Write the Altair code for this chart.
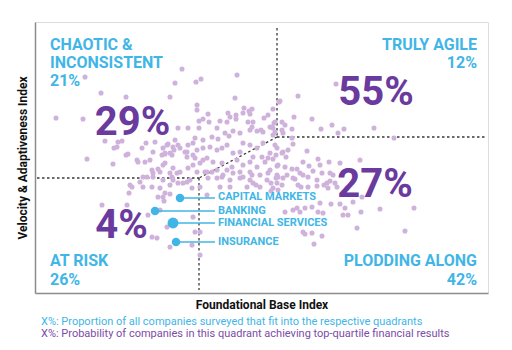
import altair as alt
import pandas as pd

# ---- survey companies (Foundational Base Index, Velocity & Adaptiveness Index) ----
dot_x = [147, 50, 166, 161, 140, 202, 66, 91, 135, 200, 162, 162, 209, 217, 238, 244, 21, 48, 143, 153,
         168, 164, 174, 173, 185, 193, 195, 201, 192, 201, 208, 214, 215, 213, 218, 217, 226, 235, 239, 229,
         233, 182, 190, 194, 198, 205, 215, 222, 228, 238, 247, 177, 183, 168, 164, 160, 140, 138, 135, 145,
         152, 158, 162, 168, 175, 182, 187, 192, 198, 205, 208, 215, 222, 228, 235, 242, 248, 218, 227, 233,
         153, 143, 150, 158, 160, 52, 70, 83, 87, 79, 91, 78, 102, 103, 110, 115, 107, 111, 120, 128,
         133, 127, 130, 137, 132, 139, 118, 123, 128, 130, 117, 125, 135, 145, 153, 162, 108, 112, 118, 128,
         138, 143, 155, 105, 95, 97, 108, 117, 125, 135, 148, 152, 157, 94, 130, 135, 67, 92, 129, 123,
         137, 142, 138, 128, 113, 125, 132, 117, 122, 135, 157, 165, 160, 165, 158, 172, 165, 168, 158, 172,
         82, 93, 118, 130, 152, 172, 178, 187, 197, 202, 208, 215, 222, 230, 235, 243, 250, 170, 182, 192,
         205, 215, 225, 242, 173, 182, 187, 195, 205, 215, 232, 242, 248, 165, 185, 195, 212, 218, 225, 238,
         177, 188, 198, 208, 217, 233, 252, 258, 265, 273, 282, 292, 298, 221, 263, 273, 282, 293, 302, 312,
         259, 277, 247, 250, 240, 237, 257, 286, 297, 303, 309, 339, 359, 248, 240, 238, 257, 258, 240, 253,
         247, 272, 251, 241, 238, 283, 294, 305, 325, 242, 257, 262, 268, 274, 285, 278, 287, 295, 295, 268,
         260, 243, 266, 289, 300, 247, 301, 263, 245, 327, 262, 270, 277, 283, 288, 296, 305, 310, 308, 313,
         250, 265, 326, 345, 379, 322, 370, 270, 287, 279, 258, 285, 318, 268, 277, 241, 236, 243, 236]
dot_y = [224, 216, 214, 211, 210, 218, 200, 196, 196, 195, 188, 183, 185, 184, 184, 191, 175, 174, 165, 165,
         174, 172, 171, 179, 172, 180, 176, 178, 171, 174, 180, 182, 179, 171, 171, 166, 163, 166, 170, 175,
         178, 165, 160, 157, 162, 160, 163, 162, 161, 165, 163, 156, 154, 153, 165, 155, 153, 146, 140, 145,
         141, 150, 143, 145, 146, 143, 145, 148, 140, 141, 150, 148, 145, 150, 140, 145, 141, 136, 136, 135,
         148, 148, 141, 138, 135, 134, 152, 151, 152, 145, 138, 129, 133, 131, 131, 133, 145, 150, 151, 145,
         149, 138, 140, 138, 148, 143, 120, 124, 128, 130, 123, 121, 120, 121, 125, 121, 116, 116, 116, 113,
         113, 110, 113, 111, 108, 106, 106, 106, 105, 108, 110, 111, 105, 100, 100, 99, 88, 88, 92, 96,
         116, 120, 125, 96, 78, 83, 66, 56, 55, 46, 48, 38, 61, 61, 76, 98, 130, 133, 128, 121,
         146, 139, 141, 139, 136, 135, 131, 130, 126, 133, 128, 131, 126, 131, 123, 128, 126, 121, 123, 123,
         121, 121, 118, 118, 115, 115, 116, 113, 115, 113, 113, 110, 115, 106, 106, 106, 106, 110, 106, 105,
         121, 118, 120, 116, 118, 120, 118, 115, 120, 116, 113, 110, 118, 108, 108, 106, 107, 105, 106, 105,
         176, 174, 171, 168, 171, 166, 164, 164, 168, 160, 164, 165, 155, 160, 161, 158, 155, 149, 148, 143,
         140, 142, 136, 138, 134, 134, 131, 130, 133, 127, 124, 124, 131, 127, 128, 122, 120, 120, 112, 118,
         114, 116, 106, 108, 110, 108, 209, 197, 192, 96, 85, 85, 86, 81, 80, 89, 89, 85, 78, 78,
         81, 81, 81, 84, 85, 65, 62, 59, 57, 49, 83, 90, 91, 61, 60, 115, 110, 103, 102]

# ---- industries ----
industry_names = ["CAPITAL MARKETS", "BANKING", "FINANCIAL SERVICES", "INSURANCE"]
industry_x = [145, 120, 138, 141]
industry_y = [95, 82, 70, 51]
industry_weight = [1, 1, 1.6, 1]

# ---- quadrants ----
quadrant_names = [["CHAOTIC &", "INCONSISTENT"], ["TRULY AGILE"], ["AT RISK"], ["PLODDING ALONG"]]
quadrant_share = [21, 12, 26, 42]          # % of all companies surveyed
quadrant_topq = [29, 55, 4, 27]            # % probability of top-quartile financial results

footnotes = ["X%: Proportion of all companies surveyed that fit into the respective quadrants",
             "X%: Probability of companies in this quadrant achieving top-quartile financial results"]

BLUE = "#41B6E6"
PURPLE = "#6B3A9E"
DOT = "#CFB2DC"
FONT = "Roboto"

XD = [0, 453]
YD = [0, 271]
xs = alt.Scale(domain=XD, nice=False, zero=False)
ys = alt.Scale(domain=YD, nice=False, zero=False)

x_axis = alt.Axis(grid=False, ticks=False, labels=False, domainColor="#8C8C8C", domainWidth=1.5,
                  titleFont=FONT, titleFontSize=12, titleFontWeight="bold", titleColor="#111",
                  titlePadding=6)
y_axis = alt.Axis(grid=False, ticks=False, labels=False, domainColor="#8C8C8C", domainWidth=1.5,
                  titleFont=FONT, titleFontSize=12, titleFontWeight="bold", titleColor="#111",
                  titlePadding=6)


def X(f="x"):
    return alt.X(f"{f}:Q", scale=xs, axis=x_axis, title="Foundational Base Index")


def Y(f="y"):
    return alt.Y(f"{f}:Q", scale=ys, axis=y_axis, title="Velocity & Adaptiveness Index")


# quadrant boundary segments (index units)
seg = pd.DataFrame({
    "x": [242, 242, 242, 2, 164],
    "y": [265, 156, 156, 115, 115],
    "x2": [242, 450, 164, 164, 164],
    "y2": [156, 156, 115, 115, 3],
})

dots = pd.DataFrame({"x": dot_x, "y": dot_y})
ind = pd.DataFrame({"name": industry_names, "x": industry_x, "y": industry_y,
                    "w": industry_weight, "lx": [180] * 4, "tx": [183] * 4,
                    "ty": [96, 82.5, 70, 51]})

lq = [
    (quadrant_names[0][0], 15, 243.5), (quadrant_names[0][1], 15, 225), (f"{quadrant_share[0]}%", 15, 207),
    (quadrant_names[2][0], 15, 27), (f"{quadrant_share[2]}%", 15, 8),
]
rq = [
    (quadrant_names[1][0], 442, 243.5), (f"{quadrant_share[1]}%", 442, 225),
    (quadrant_names[3][0], 442, 27), (f"{quadrant_share[3]}%", 442, 8),
]
lq_df = pd.DataFrame(lq, columns=["t", "x", "y"])
rq_df = pd.DataFrame(rq, columns=["t", "x", "y"])
big_df = pd.DataFrame({"t": [f"{v}%" for v in quadrant_topq],
                       "x": [97.5, 341, 86.5, 340], "y": [158, 188, 55, 96]})
foot_df = pd.DataFrame({"t": footnotes, "x": [6, 6], "y": [-32, -44], "c": [BLUE, "#7B4CA8"]})

dashed = alt.Chart(seg).mark_rule(color="#3a3a3a", strokeWidth=1.3, strokeDash=[2.5, 2.5]).encode(
    x=X(), y=Y(), x2="x2:Q", y2="y2:Q")

scatter = alt.Chart(dots).mark_circle(color=DOT, opacity=1, size=26).encode(x=X(), y=Y())

connectors = alt.Chart(ind).mark_rule(color=BLUE, strokeWidth=1.6).encode(x=X(), x2="lx:Q", y=Y())
ind_dots = alt.Chart(ind).mark_circle(color=BLUE, opacity=1).encode(
    x=X(), y=Y(), size=alt.Size("w:Q", scale=alt.Scale(domain=[1, 1.6], range=[72, 120]), legend=None))
ind_text = alt.Chart(ind).mark_text(color=BLUE, font=FONT, fontSize=11, fontWeight="bold",
                                    align="left", baseline="middle").encode(x=X("tx"), y=Y("ty"), text="name:N")

ql = alt.Chart(lq_df).mark_text(color=BLUE, font=FONT, fontSize=16, fontWeight="bold",
                                align="left", baseline="alphabetic").encode(x=X(), y=Y(), text="t:N")
qr = alt.Chart(rq_df).mark_text(color=BLUE, font=FONT, fontSize=16, fontWeight="bold",
                                align="right", baseline="alphabetic").encode(x=X(), y=Y(), text="t:N")
big = alt.Chart(big_df).mark_text(color=PURPLE, font=FONT, fontSize=40, fontWeight="bold",
                                  align="center", baseline="alphabetic").encode(x=X(), y=Y(), text="t:N")
foot = alt.Chart(foot_df).mark_text(font=FONT, fontSize=11, align="left", baseline="alphabetic").encode(
    x=X(), y=Y(), text="t:N", color=alt.Color("c:N", scale=None))

chart = alt.layer(dashed, scatter, connectors, ind_dots, ind_text, ql, qr, big, foot).properties(
    width=453, height=271,
    padding={"left": 35, "top": 22, "right": 24, "bottom": 57},
    autosize=alt.AutoSizeParams(type="none"),
).configure_view(stroke=None).configure(background="white")

chart.save("out.html", embed_options={"renderer": "svg", "actions": False})
